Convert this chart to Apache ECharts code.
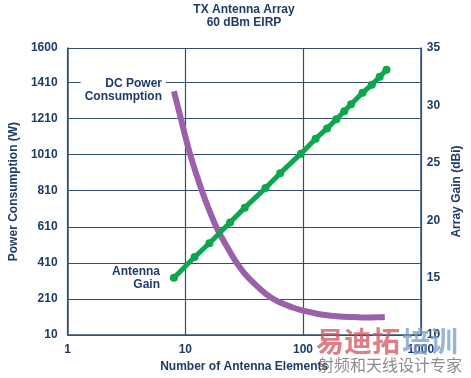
<!DOCTYPE html>
<html>
<head>
<meta charset="utf-8">
<script src="https://cdn.jsdelivr.net/npm/echarts@6/dist/echarts.min.js"></script>
<style>
html, body { margin: 0; padding: 0; background: #fff; }
#chart { width: 471px; height: 378px; }
</style>
</head>
<body>
<div id="chart"></div>
<script>
// 阵列增益 (dBi) 与单元数
var gainElements = [8, 12, 16, 24, 32, 48, 64, 96, 128, 160, 192, 224, 256, 320, 384, 448, 512];
var gainValues = [15.0, 16.8, 18.0, 19.8, 21.1, 22.8, 24.1, 25.8, 27.1, 28.0, 28.8, 29.5, 30.1, 31.1, 31.8, 32.5, 33.1];

// 直流功耗 (W) 与单元数
var powerElements = [8, 9, 10, 11, 12, 14, 16, 18, 20, 24, 28, 32, 40, 48, 56, 64, 80, 96, 128, 160, 192, 256, 320, 384, 448, 495];
var powerValues = [1360, 1230, 1110, 1010, 930, 800, 700, 620, 560, 470, 400, 350, 285, 240, 210, 190, 165, 148, 130, 120, 115, 110, 108, 108, 109, 110];

var navy = '#1d3c66';
var gridColor = '#34506f';
var fontFam = '"Liberation Sans", Arial, sans-serif';

function pairs(xs, ys) {
	var out = [];
	for (var i = 0; i < xs.length; i++) {
		out.push([xs[i], ys[i]]);
	}
	return out;
}

function plain(v) {
	return String(v);
}

var chart = echarts.init(document.getElementById('chart'));
var option = {
	animation: false,
	grid: { left: 64, right: 46, top: 48, bottom: 42 },
	xAxis: {
		type: 'log',
		logBase: 10,
		min: 1,
		max: 1000,
		name: 'Number of Antenna Elements',
		nameLocation: 'middle',
		nameGap: 24,
		nameTextStyle: { color: navy, fontWeight: 'bold', fontSize: 12, fontFamily: fontFam },
		axisLine: { show: true, lineStyle: { color: gridColor, width: 1.5 } },
		axisTick: { show: false },
		minorTick: { show: false },
		axisLabel: { color: navy, fontWeight: 'bold', fontSize: 12, fontFamily: fontFam, margin: 9, formatter: plain },
		splitLine: { show: true, lineStyle: { color: gridColor, width: 1.2 } }
	},
	yAxis: [{
		type: 'value',
		min: 10,
		max: 1600,
		interval: 200,
		name: 'Power Consumption (W)',
		nameLocation: 'middle',
		nameRotate: 90,
		nameGap: 42,
		nameTextStyle: { color: navy, fontWeight: 'bold', fontSize: 12, fontFamily: fontFam },
		axisLine: { show: true, lineStyle: { color: gridColor, width: 1.5 } },
		axisTick: { show: false },
		axisLabel: { color: navy, fontWeight: 'bold', fontSize: 12, fontFamily: fontFam, margin: 10, formatter: plain },
		splitLine: { show: true, lineStyle: { color: gridColor, width: 1.2 } }
	}, {
		type: 'value',
		position: 'right',
		min: 10,
		max: 35,
		interval: 5,
		name: 'Array Gain (dBi)',
		nameLocation: 'middle',
		nameRotate: 90,
		nameGap: 28,
		nameTextStyle: { color: navy, fontWeight: 'bold', fontSize: 12, fontFamily: fontFam },
		axisLine: { show: true, lineStyle: { color: gridColor, width: 1.5 } },
		axisTick: { show: false },
		axisLabel: { color: navy, fontWeight: 'bold', fontSize: 12, fontFamily: fontFam, margin: 6, formatter: plain },
		splitLine: { show: false }
	}],
	series: [{
		name: 'DC Power Consumption',
		type: 'line',
		yAxisIndex: 0,
		smooth: 0.4,
		symbol: 'none',
		lineStyle: { color: '#9a60ac', width: 6 },
		data: pairs(powerElements, powerValues)
	}, {
		name: 'Antenna Gain',
		type: 'line',
		yAxisIndex: 1,
		symbol: 'circle',
		symbolSize: 8,
		itemStyle: { color: '#0ba64e' },
		lineStyle: { color: '#0ba64e', width: 5 },
		data: pairs(gainElements, gainValues),
		z: 3
	}],
	graphic: [{
		type: 'text',
		x: 244, y: 3,
		style: {
			text: 'TX Antenna Array\n60 dBm EIRP',
			align: 'center',
			fill: navy, font: 'bold 12px ' + fontFam, lineHeight: 13
		}
	}, {
		type: 'text',
		x: 166, y: 77,
		z: 10,
		style: {
			text: 'DC Power\nConsumption',
			align: 'right',
			fill: navy, font: 'bold 12px ' + fontFam, lineHeight: 13,
			backgroundColor: '#fff', padding: [0, 4, 0, 4]
		}
	}, {
		type: 'text',
		x: 165, y: 265,
		z: 10,
		style: {
			text: 'Antenna\nGain',
			align: 'right',
			fill: navy, font: 'bold 12px ' + fontFam, lineHeight: 13,
			backgroundColor: '#fff', padding: [0, 5, 0, 3]
		}
	}, {
		type: 'text',
		x: 316, y: 327,
		z: 20,
		style: {
			text: '易迪拓',
			fill: 'rgba(214, 80, 90, 0.75)', font: 'bold 28px "Noto Sans CJK SC"'
		}
	}, {
		type: 'text',
		x: 402, y: 327,
		z: 20,
		style: {
			text: '培训',
			fill: 'rgba(120, 155, 200, 0.75)', font: 'bold 28px "Noto Sans CJK SC"'
		}
	}, {
		type: 'text',
		x: 318, y: 357,
		z: 20,
		style: {
			text: '射频和天线设计专家',
			fill: 'rgba(120, 120, 120, 0.85)', font: '16px "Noto Sans CJK SC"'
		}
	}]
};
chart.setOption(option);
</script>
</body>
</html>
